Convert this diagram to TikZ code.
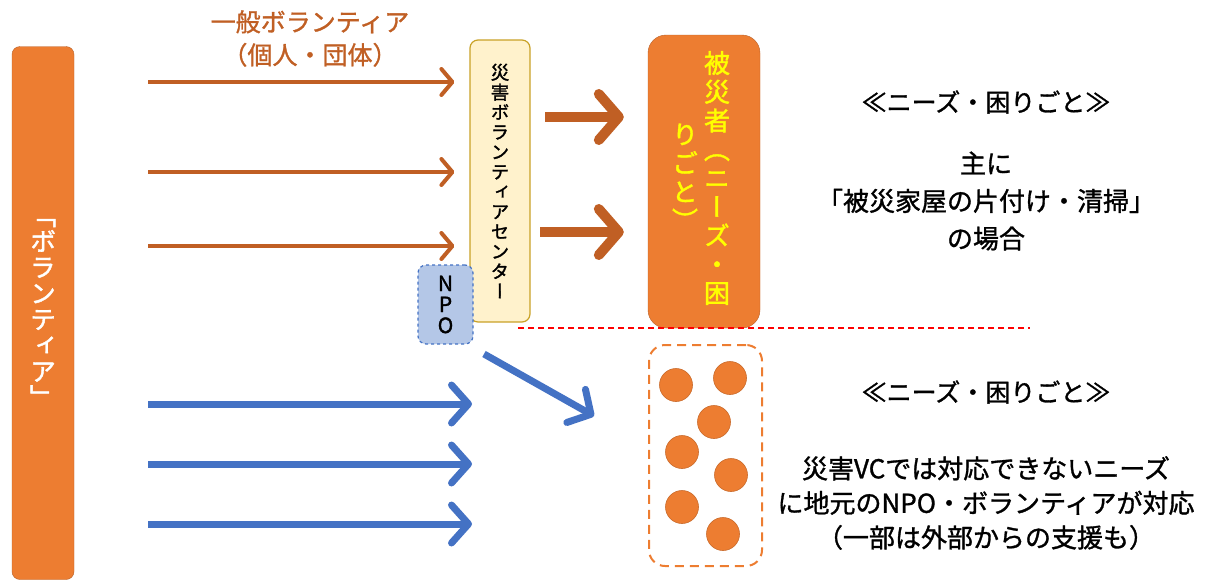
\documentclass[tikz,border=0pt]{standalone}
\usepackage{fontspec}
\setmainfont{Noto Sans CJK JP}[FakeBold=1.2]
\newfontfamily\tatefont[RawFeature=+vert,FakeBold=1.5]{Noto Sans CJK JP}
\usetikzlibrary{arrows.meta}
\definecolor{volorange}{HTML}{ED7D31}
\definecolor{voledge}{HTML}{B8612A}
\definecolor{volbrown}{HTML}{C05F24}
\definecolor{volblue}{HTML}{4472C4}
\definecolor{vccream}{HTML}{FFF2CC}
\definecolor{vcedge}{HTML}{C9A227}
\definecolor{npofill}{HTML}{B4C7E7}
\definecolor{hisaitext}{HTML}{FFFF00}

\begin{document}
\begin{tikzpicture}[x=1pt,y=-1pt,
  brownarrow/.style={volbrown,line width=4pt,-{Straight Barb[length=11pt,width=26pt,round]}},
  bigarrow/.style={volbrown,line width=10pt,-{Straight Barb[length=20pt,width=46pt,round]}},
  bluearrow/.style={volblue,line width=7pt,-{Straight Barb[length=17pt,width=38pt,round]}},
  tatebox/.style={rounded corners=8pt,align=center,inner sep=0pt},
  dot/.style={circle,fill=volorange,draw=volorange!85!black,line width=0.6pt,minimum size=33pt,inner sep=0pt},
  bodytext/.style={align=center,font=\fontsize{26}{37.5}\selectfont}]
\useasboundingbox (0,0) rectangle (1208,579);

% left side
\node [tatebox,fill=volorange,draw=voledge,minimum width=62pt,minimum height=533pt,
  text=white,font=\tatefont\fontsize{26}{26}\selectfont] (vol) at (43,313)
  {「\\ボ\\ラ\\ン\\テ\\ィ\\ア\\」};

% volunteer centre and NPO
\node [tatebox,fill=vccream,draw=vcedge,line width=1.2pt,minimum width=60pt,minimum height=282pt,
  font=\tatefont\fontsize{18.5}{19.9}\selectfont] (vc) at (500,181)
  {災\\害\\ボ\\ラ\\ン\\テ\\ィ\\ア\\セ\\ン\\タ\\ー};
\node [tatebox,fill=npofill,draw=volblue,dashed,line width=1.2pt,minimum width=55pt,minimum height=79pt,
  font=\tatefont\fontsize{21}{21}\selectfont] (npo) at (445.5,304.5) {N\\P\\O};

\node [volbrown,align=center,font=\fontsize{25}{33}\selectfont] (general) at (310,38.5)
  {一般ボランティア\\（個人・団体）};

% victims
\node [fill=volorange,draw=voledge,rounded corners=18pt,minimum width=112pt,minimum height=293pt] (hisai) at (704,181.5) {};
\node [text=hisaitext,align=center,inner sep=0pt,font=\tatefont\fontsize{26}{28.75}\selectfont] (hisaiR) at (717,178)
  {被\\災\\者\\（\\ニ\\ー\\ズ\\・\\困};
\node [text=hisaitext,align=center,inner sep=0pt,font=\tatefont\fontsize{26}{28.75}\selectfont] (hisaiL) at (685,177)
  {り\\ご\\と\\）};

% local needs
\node [draw=volorange,dashed,dash pattern=on 9pt off 6pt,line width=2pt,rounded corners=16pt,
  minimum width=113pt,minimum height=221pt] (local) at (705.5,455.5) {};
\foreach \p [count=\i] in {(676,385),(730,378),(714,422),(682,452),(731,475),(682,507),(723,534)}
  \node [dot] (c\i) at \p {};

\draw [red,dashed,dash pattern=on 6pt off 4pt,line width=1.3pt] (518,328) -- (1030,328);

% arrows
\coordinate (g1) at (148,82);
\coordinate (g2) at (148,172);
\coordinate (g3) at (148,246);
\draw [brownarrow,shorten >=15pt] (g1) -- (g1 -| vc.west);
\draw [brownarrow,shorten >=15pt] (g2) -- (g2 -| vc.west);
\draw [brownarrow,shorten >=15pt] (g3) -- (g3 -| vc.west);

\coordinate (a1) at (545,117);
\coordinate (a2) at (540,232);
\draw [bigarrow,shorten >=24pt] (a1) -- (a1 -| hisai.west);
\draw [bigarrow,shorten >=24pt] (a2) -- (a2 -| hisai.west);

\coordinate (l1) at (148,404);
\coordinate (l2) at (148,464);
\coordinate (l3) at (148,524);
\draw [bluearrow] (l1) -- (472,404);
\draw [bluearrow] (l2) -- (472,464);
\draw [bluearrow] (l3) -- (472,524);
\coordinate (n1) at (484,354);
\coordinate (n2) at (594,416);
\draw [bluearrow] (n1) -- (n2);

% needs text
\node [font=\fontsize{25}{30}\selectfont] (needs1) at (986,102) {≪ニーズ・困りごと≫};
\node [bodytext] (case1) at (986,201) {主に\\「被災家屋の片付け・清掃」\\の場合};
\node [font=\fontsize{25}{30}\selectfont] (needs2) at (986,392) {≪ニーズ・困りごと≫};
\node [bodytext,font=\fontsize{26}{34.5}\selectfont] (case2) at (986,503)
  {災害VCでは対応できないニーズ\\に地元のNPO・ボランティアが対応\\（一部は外部からの支援も）};
\end{tikzpicture}
\end{document}
